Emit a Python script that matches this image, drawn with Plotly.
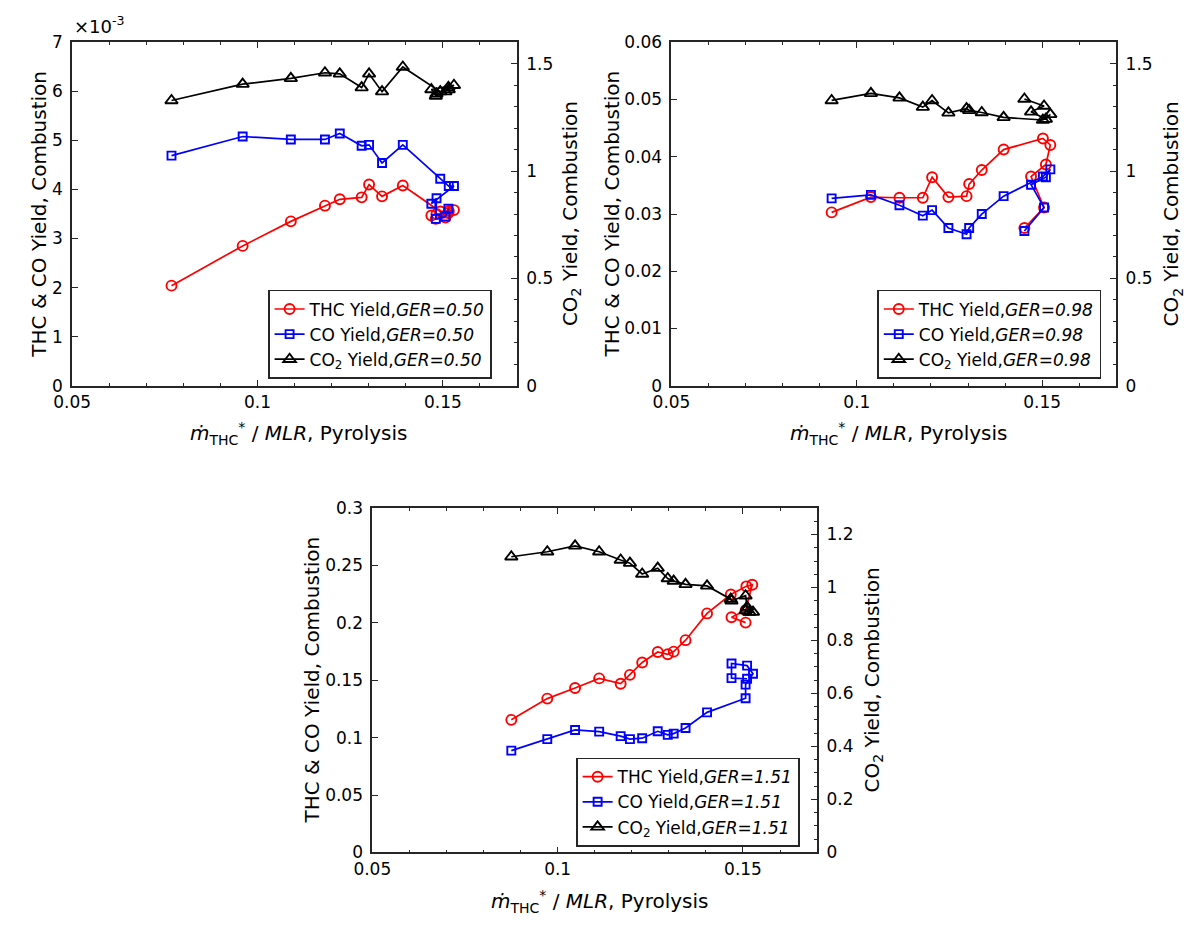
import plotly.graph_objects as go

FONT = "DejaVu Sans"
INK = "#262626"
W, H = 1198, 928

# ---------------- data ----------------
# GER = 0.50
x_050 = [0.0768, 0.0960, 0.1090, 0.1182, 0.1222, 0.1281, 0.1301, 0.1336, 0.1392,
         0.1493, 0.1516, 0.1530, 0.1469, 0.1483, 0.1481, 0.1507, 0.1515]
thc_050 = [2.04e-3, 2.85e-3, 3.35e-3, 3.67e-3, 3.80e-3, 3.84e-3, 4.10e-3, 3.86e-3, 4.08e-3,
           3.55e-3, 3.56e-3, 3.58e-3, 3.47e-3, 3.50e-3, 3.40e-3, 3.43e-3, 3.52e-3]
co_050 = [4.69e-3, 5.08e-3, 5.02e-3, 5.02e-3, 5.14e-3, 4.89e-3, 4.91e-3, 4.54e-3, 4.91e-3,
          4.22e-3, 4.07e-3, 4.07e-3, 3.71e-3, 3.82e-3, 3.40e-3, 3.45e-3, 3.61e-3]
co2_050 = [1.329, 1.405, 1.432, 1.458, 1.453, 1.389, 1.453, 1.370, 1.485,
           1.370, 1.380, 1.400, 1.380, 1.360, 1.350, 1.370, 1.390]

# GER = 0.98
x_098 = [0.0932, 0.1038, 0.1115, 0.1178, 0.1203, 0.1247, 0.1296, 0.1303, 0.1337, 0.1396,
         0.1502, 0.1522, 0.1510, 0.1470, 0.1505, 0.1452]
thc_098 = [0.03028, 0.03295, 0.03284, 0.03284, 0.03643, 0.03295, 0.03312, 0.03523, 0.03768,
           0.04126, 0.04320, 0.04206, 0.03865, 0.03654, 0.03113, 0.02755]
co_098 = [0.03273, 0.03335, 0.03153, 0.02971, 0.03068, 0.02755, 0.02647, 0.02755, 0.02999,
          0.03312, 0.03654, 0.03779, 0.03643, 0.03512, 0.03113, 0.02703]
co2_098 = [1.329, 1.362, 1.341, 1.298, 1.329, 1.271, 1.291, 1.283, 1.273, 1.250,
           1.238, 1.264, 1.242, 1.276, 1.303, 1.336]

# GER = 1.51
x_151_thc = [0.0875, 0.0972, 0.1047, 0.1112, 0.1170, 0.1195, 0.1228, 0.1270, 0.1297, 0.1313,
             0.1345, 0.1403, 0.1467, 0.1509, 0.1525, 0.1507, 0.1469, 0.1507]
thc_151 = [0.1155, 0.1340, 0.1433, 0.1516, 0.1470, 0.1547, 0.1655, 0.1746, 0.1726, 0.1749,
           0.1849, 0.2082, 0.2247, 0.2318, 0.2332, 0.2110, 0.2048, 0.2002]
x_151_co = [0.0875, 0.0972, 0.1047, 0.1112, 0.1170, 0.1195, 0.1228, 0.1270, 0.1297, 0.1313,
            0.1345, 0.1403, 0.1507, 0.1507, 0.1527, 0.1511, 0.1469, 0.1469, 0.1511]
co_151 = [0.0887, 0.0987, 0.1067, 0.1052, 0.1013, 0.0987, 0.0995, 0.1055, 0.1024, 0.1035,
          0.1084, 0.1220, 0.1343, 0.1462, 0.1556, 0.1627, 0.1646, 0.1518, 0.1513]
x_151_co2 = [0.0875, 0.0972, 0.1047, 0.1112, 0.1170, 0.1195, 0.1228, 0.1270, 0.1297, 0.1313,
             0.1345, 0.1403, 0.1467, 0.1469, 0.1507, 0.1511, 0.1527, 0.1517, 0.1507]
co2_151 = [1.116, 1.135, 1.157, 1.135, 1.104, 1.092, 1.051, 1.073, 1.034, 1.024,
           1.012, 1.006, 0.956, 0.950, 0.969, 0.926, 0.907, 0.907, 0.913]

# ---------------- axis ticks ----------------
x_ticks = [0.05, 0.10, 0.15]
x_ticktext = ["0.05", "0.1", "0.15"]
y1_ticks = [0, 1e-3, 2e-3, 3e-3, 4e-3, 5e-3, 6e-3, 7e-3]
y1_ticktext = ["0", "1", "2", "3", "4", "5", "6", "7"]
y2_ticks = [0, 0.01, 0.02, 0.03, 0.04, 0.05, 0.06]
y2_ticktext = ["0", "0.01", "0.02", "0.03", "0.04", "0.05", "0.06"]
y3_ticks = [0, 0.05, 0.10, 0.15, 0.20, 0.25, 0.30]
y3_ticktext = ["0", "0.05", "0.1", "0.15", "0.2", "0.25", "0.3"]
r12_ticks = [0, 0.5, 1.0, 1.5]
r12_ticktext = ["0", "0.5", "1", "1.5"]
r3_ticks = [0, 0.2, 0.4, 0.6, 0.8, 1.0, 1.2]
r3_ticktext = ["0", "0.2", "0.4", "0.6", "0.8", "1", "1.2"]

# ---------------- layout geometry (pixels) ----------------
# each panel: plot-area left, right, top, bottom in page pixels
boxes = [(54, 506, 33, 384), (663, 1115, 33, 384), (359, 811, 509, 861)]


def xdom(b):
    return [b[0] / W, b[1] / W]


def ydom(b):
    return [1 - b[3] / H, 1 - b[2] / H]


fig = go.Figure()

panels = [
    dict(ger="0.50", xs=(x_050, x_050, x_050), ys=(thc_050, co_050, co2_050)),
    dict(ger="0.98", xs=(x_098, x_098, x_098), ys=(thc_098, co_098, co2_098)),
    dict(ger="1.51", xs=(x_151_thc, x_151_co, x_151_co2), ys=(thc_151, co_151, co2_151)),
]

styles = [
    ("THC Yield", "#ff0000", "circle-open", 10),
    ("CO Yield", "#0000ff", "square-open", 8),
    ("CO<sub>2</sub> Yield", "#000000", "triangle-up-open", 11),
]

for i, p in enumerate(panels):
    xa = "x" if i == 0 else f"x{i + 1}"
    yl = "y" if i == 0 else f"y{2 * i + 1}"
    yr = f"y{2 * i + 2}"
    leg = "legend" if i == 0 else f"legend{i + 1}"
    for k, (name, col, sym, size) in enumerate(styles):
        fig.add_trace(go.Scatter(
            x=p["xs"][k], y=p["ys"][k], mode="lines+markers",
            name=f"{name},<i>GER={p['ger']}</i>",
            line=dict(color=col, width=1.7),
            marker=dict(symbol=sym, size=size, color=col, line=dict(color=col, width=1.9)),
            xaxis=xa, yaxis=(yr if k == 2 else yl), legend=leg,
        ))

tickfont = dict(family=FONT, size=17, color="#000000")
common_x = dict(range=[0.05, 0.17], tickmode="array", tickvals=x_ticks, ticktext=x_ticktext,
                ticks="inside", ticklen=6, tickwidth=1.2, tickcolor=INK,
                showline=True, linecolor=INK, linewidth=1.8, mirror="ticks",
                showgrid=False, zeroline=False, tickfont=tickfont,
                minor=dict(tickmode="linear", tick0=0.05, dtick=0.01, ticks="inside",
                           ticklen=3, tickwidth=1.0, tickcolor=INK, showgrid=False))


def left_axis(dom, xa, rng, tv, tt):
    return dict(domain=dom, anchor=xa, range=rng, tickmode="array", tickvals=tv, ticktext=tt,
                ticks="inside", ticklen=6, tickwidth=1.2, tickcolor=INK,
                showline=True, linecolor=INK, linewidth=1.8, mirror=False,
                showgrid=False, zeroline=False, tickfont=tickfont, ticklabelstandoff=4)


def right_axis(over, xa, rng, tv, tt, mdt):
    return dict(overlaying=over, anchor=xa, side="right", range=rng, tickmode="array",
                tickvals=tv, ticktext=tt, ticks="inside", ticklen=6, tickwidth=1.2,
                tickcolor=INK, showline=True, linecolor=INK, linewidth=1.8,
                showgrid=False, zeroline=False, tickfont=tickfont, ticklabelstandoff=4,
                minor=dict(tickmode="linear", tick0=0, dtick=mdt, ticks="inside",
                           ticklen=3, tickwidth=1.0, tickcolor=INK, showgrid=False))


layout = dict(
    width=W, height=H, autosize=False,
    margin=dict(l=0, r=0, t=0, b=0),
    paper_bgcolor="white", plot_bgcolor="white",
    font=dict(family=FONT, color="#000000"),
    xaxis=dict(common_x, domain=xdom(boxes[0]), anchor="y"),
    xaxis2=dict(common_x, domain=xdom(boxes[1]), anchor="y3"),
    xaxis3=dict(common_x, domain=xdom(boxes[2]), anchor="y5"),
    yaxis=left_axis(ydom(boxes[0]), "x", [0, 7e-3], y1_ticks, y1_ticktext),
    yaxis2=right_axis("y", "x", [0, 1.6], r12_ticks, r12_ticktext, 0.1),
    yaxis3=left_axis(ydom(boxes[1]), "x2", [0, 0.06], y2_ticks, y2_ticktext),
    yaxis4=right_axis("y3", "x2", [0, 1.6], r12_ticks, r12_ticktext, 0.1),
    yaxis5=left_axis(ydom(boxes[2]), "x3", [0, 0.3], y3_ticks, y3_ticktext),
    yaxis6=right_axis("y5", "x3", [0, 1.3], r3_ticks, r3_ticktext, 0.05),
)

legend_pos = [(253, 286), (872, 286), (566, 764)]
for i, (lx, ly) in enumerate(legend_pos):
    key = "legend" if i == 0 else f"legend{i + 1}"
    layout[key] = dict(x=lx / W, y=1 - ly / H, xanchor="left", yanchor="top",
                       bgcolor="white", bordercolor=INK, borderwidth=1.6,
                       font=dict(family=FONT, size=17, color="#000000"),
                       tracegroupgap=0)

fig.update_layout(**layout)

# axis titles
title_font = dict(family=FONT, size=20, color="#000000")
xlabel = "<i>ṁ</i><sub>THC</sub><sup>*</sup> / <i>MLR</i>, Pyrolysis"
ylabel_left = "THC &amp; CO Yield, Combustion"
ylabel_right = "CO<sub>2</sub> Yield, Combustion"

ann = []
left_title_x = [20, 603, 298]
right_title_x = [561, 1172, 868]
x_title_y = [433, 433, 911]
for i, b in enumerate(boxes):
    cy = (b[2] + b[3]) / 2
    ann.append(dict(text=ylabel_left, x=left_title_x[i] / W, y=1 - cy / H, xref="paper", yref="paper",
                    textangle=-90, showarrow=False, font=title_font, xanchor="center", yanchor="middle"))
    ann.append(dict(text=ylabel_right, x=right_title_x[i] / W, y=1 - cy / H, xref="paper", yref="paper",
                    textangle=-90, showarrow=False, font=title_font, xanchor="center", yanchor="middle"))
    ann.append(dict(text=xlabel, x=((b[0] + b[1]) / 2 + 5) / W, y=1 - x_title_y[i] / H,
                    xref="paper", yref="paper", showarrow=False, font=title_font,
                    xanchor="center", yanchor="middle"))

ann.append(dict(text="×10<sup>-3</sup>", x=54 / W, y=1 - 15 / H, xref="paper", yref="paper",
                showarrow=False, font=dict(family=FONT, size=18, color="#000000"),
                xanchor="left", yanchor="middle"))
fig.update_layout(annotations=ann)

fig.write_html("out.html")
